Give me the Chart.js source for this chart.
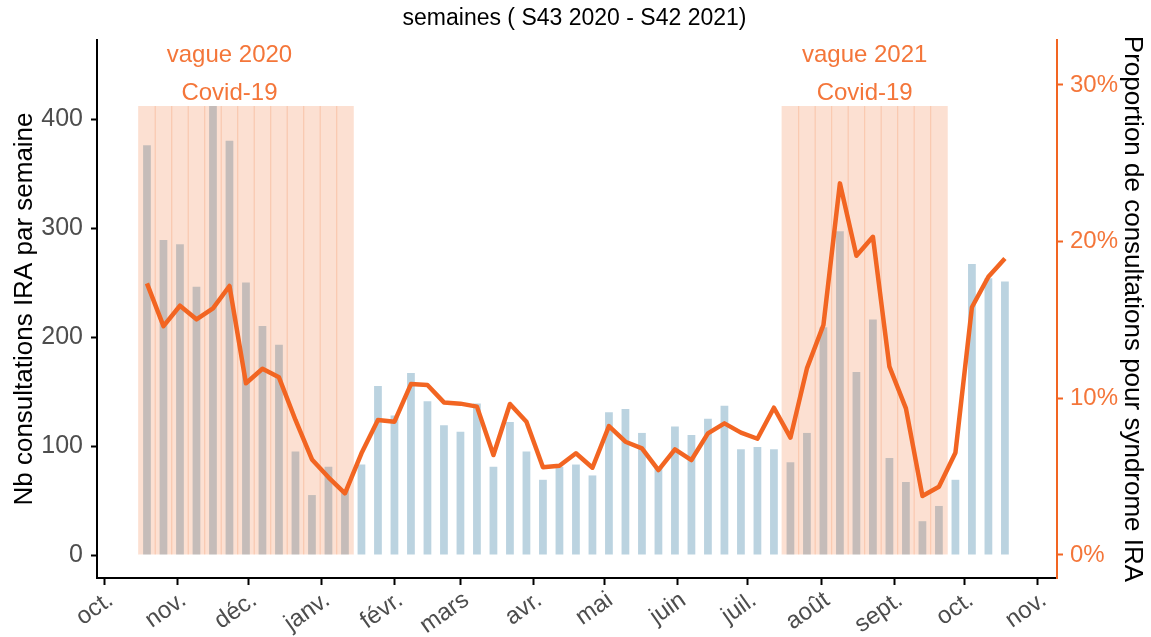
<!DOCTYPE html>
<html><head><meta charset="utf-8">
<script src="https://cdn.jsdelivr.net/npm/chart.js@4.4.0/dist/chart.umd.min.js"></script>
<style>html,body{margin:0;padding:0;background:#fff}</style>
</head><body>
<canvas id="c" width="1151" height="637"></canvas>
<script>
// ---- Data ----
const chartTitle = 'semaines ( S43 2020 - S42 2021)';
const weekLabels = ['S43','S44','S45','S46','S47','S48','S49','S50','S51','S52','S53',
  'S01','S02','S03','S04','S05','S06','S07','S08','S09','S10','S11','S12','S13','S14','S15',
  'S16','S17','S18','S19','S20','S21','S22','S23','S24','S25','S26','S27','S28','S29','S30',
  'S31','S32','S33','S34','S35','S36','S37','S38','S39','S40','S41','S42'];
const consultations = [376, 289, 285, 246, 412, 380, 250, 210, 193, 95, 55, 81, 60,
  83, 155, 128, 167, 141, 119, 113, 139, 81, 122, 95, 69, 81, 83, 73, 131, 134, 112, 80,
  118, 110, 125, 137, 97, 99, 97, 85, 112, 209, 297, 168, 216, 89, 67, 31, 45, 69, 267, 254, 251];
const proportion = [17.34, 14.61, 15.91, 15.04, 15.74, 17.17, 10.96, 11.89, 11.34, 8.62, 6.10, 4.96, 3.94,
  6.49, 8.62, 8.51, 10.91, 10.85, 9.74, 9.66, 9.47, 6.38, 9.64, 8.51, 5.60, 5.70, 6.49, 5.57, 8.23, 7.23, 6.81, 5.42,
  6.74, 6.06, 7.76, 8.40, 7.81, 7.42, 9.40, 7.49, 11.91, 14.68, 23.72, 19.10, 20.31, 12.02, 9.36, 3.77, 4.36, 6.53, 15.81, 17.76, 18.93];
const monthLabels = ['oct.','nov.','déc.','janv.','févr.','mars','avr.','mai','juin','juil.','août','sept.','oct.','nov.'];
const monthDays = [0, 31, 61, 92, 123, 151, 182, 212, 243, 273, 304, 335, 365, 396]; // days since 1 oct 2020
const leftTicks = [0, 100, 200, 300, 400];
const rightTicks = [0, 10, 20, 30];
const waveNames = ['vague 2020', 'vague 2021'];
const waveSub = ['Covid-19', 'Covid-19'];
const waveStart = [0, 39];   // week index
const waveEnd = [12, 48];
const waveLabelDay = [53, 322.5];
const firstWeekDay = 18; // Monday 19 oct 2020

// ---- Build ----
const FONT = '"Liberation Sans", Arial, sans-serif';
const ORANGE = '#F26522';
const ORANGE_TXT = '#F4763A';
const xs = weekLabels.map((_, i) => firstWeekDay + 7 * i);
const shadeTop = Math.max(...consultations);
const shadeData = [];
xs.forEach((x, i) => {
  for (let w = 0; w < waveStart.length; w++) {
    if (i >= waveStart[w] && i <= waveEnd[w]) shadeData.push({x: x, y: shadeTop});
  }
});

const annotPlugin = {
  id: 'annot',
  afterDraw(chart) {
    const {ctx, chartArea} = chart;
    const x = chart.scales.x;
    ctx.save();
    ctx.textAlign = 'center';
    ctx.textBaseline = 'middle';
    ctx.fillStyle = ORANGE_TXT;
    ctx.font = '24px ' + FONT;
    waveNames.forEach((n, i) => {
      const px = x.getPixelForValue(waveLabelDay[i]);
      ctx.fillText(n, px, chartArea.top + 15);
      ctx.fillText(waveSub[i], px, chartArea.top + 53);
    });
    ctx.fillStyle = '#000';
    ctx.font = '23px ' + FONT;
    ctx.fillText(chartTitle, chart.width / 2 - 1, 19);
    ctx.restore();
  }
};

new Chart(document.getElementById('c'), {
  type: 'bar',
  data: {
    datasets: [
      { type: 'line', data: xs.map((x, i) => ({x: x, y: proportion[i]})), yAxisID: 'y1',
        borderColor: ORANGE, borderWidth: 4.5, pointRadius: 0, tension: 0,
        borderJoinStyle: 'round', borderCapStyle: 'butt', order: 0 },
      { type: 'bar', data: shadeData, yAxisID: 'y', backgroundColor: 'rgba(240,100,30,0.2)',
        barPercentage: 1.07, categoryPercentage: 1, grouped: false, borderWidth: 0, order: 1 },
      { type: 'bar', data: xs.map((x, i) => ({x: x, y: consultations[i]})), yAxisID: 'y',
        backgroundColor: '#BBD3E0', barPercentage: 0.47, categoryPercentage: 1, grouped: false, borderWidth: 0, order: 2 }
    ]
  },
  options: {
    responsive: false, animation: false, devicePixelRatio: 1,
    layout: {padding: {top: 40, left: 0, right: 0, bottom: 0}},
    plugins: {legend: {display: false}, tooltip: {enabled: false}, title: {display: false}},
    scales: {
      x: {
        type: 'linear', position: 'bottom', min: -3.2, max: 404.1, offset: false,
        grid: {display: true, drawOnChartArea: false, offset: false, tickLength: 7, tickColor: '#000', tickWidth: 2},
        border: {display: true, color: '#000', width: 2},
        afterBuildTicks: s => { s.ticks = monthDays.map(v => ({value: v})); },
        ticks: {autoSkip: false, maxRotation: 35, minRotation: 35, color: '#4D4D4D',
          font: {family: FONT, size: 24}, padding: 1, labelOffset: 6,
          callback: v => monthLabels[monthDays.indexOf(v)]},
        afterFit: s => { s.height = 59; }
      },
      y: {
        type: 'linear', position: 'left', min: -21.1, max: 472.5,
        afterBuildTicks: s => { s.ticks = leftTicks.map(v => ({value: v})); },
        grid: {drawOnChartArea: false, tickLength: 6, tickColor: '#000', tickWidth: 2},
        border: {color: '#000', width: 2},
        ticks: {color: '#4D4D4D', font: {family: FONT, size: 25}, padding: 8},
        title: {display: true, text: 'Nb consultations IRA par semaine', color: '#000',
          font: {family: FONT, size: 26, lineHeight: 1}, padding: {top: 12, bottom: 0}},
        afterFit: s => { s.width = 97; }
      },
      y1: {
        type: 'linear', position: 'right', min: -1.468, max: 32.87,
        afterBuildTicks: s => { s.ticks = rightTicks.map(v => ({value: v})); },
        grid: {drawOnChartArea: false, tickLength: 6, tickColor: ORANGE, tickWidth: 2},
        border: {color: ORANGE, width: 2},
        ticks: {color: ORANGE_TXT, font: {family: FONT, size: 24}, padding: 7, callback: v => v + '%'},
        title: {display: true, text: 'Proportion de consultations pour syndrome IRA', color: '#000',
          font: {family: FONT, size: 26, lineHeight: 1}, padding: {top: 6, bottom: 0}},
        afterFit: s => { s.width = 94; }
      }
    }
  },
  plugins: [annotPlugin]
});
</script>
</body></html>
